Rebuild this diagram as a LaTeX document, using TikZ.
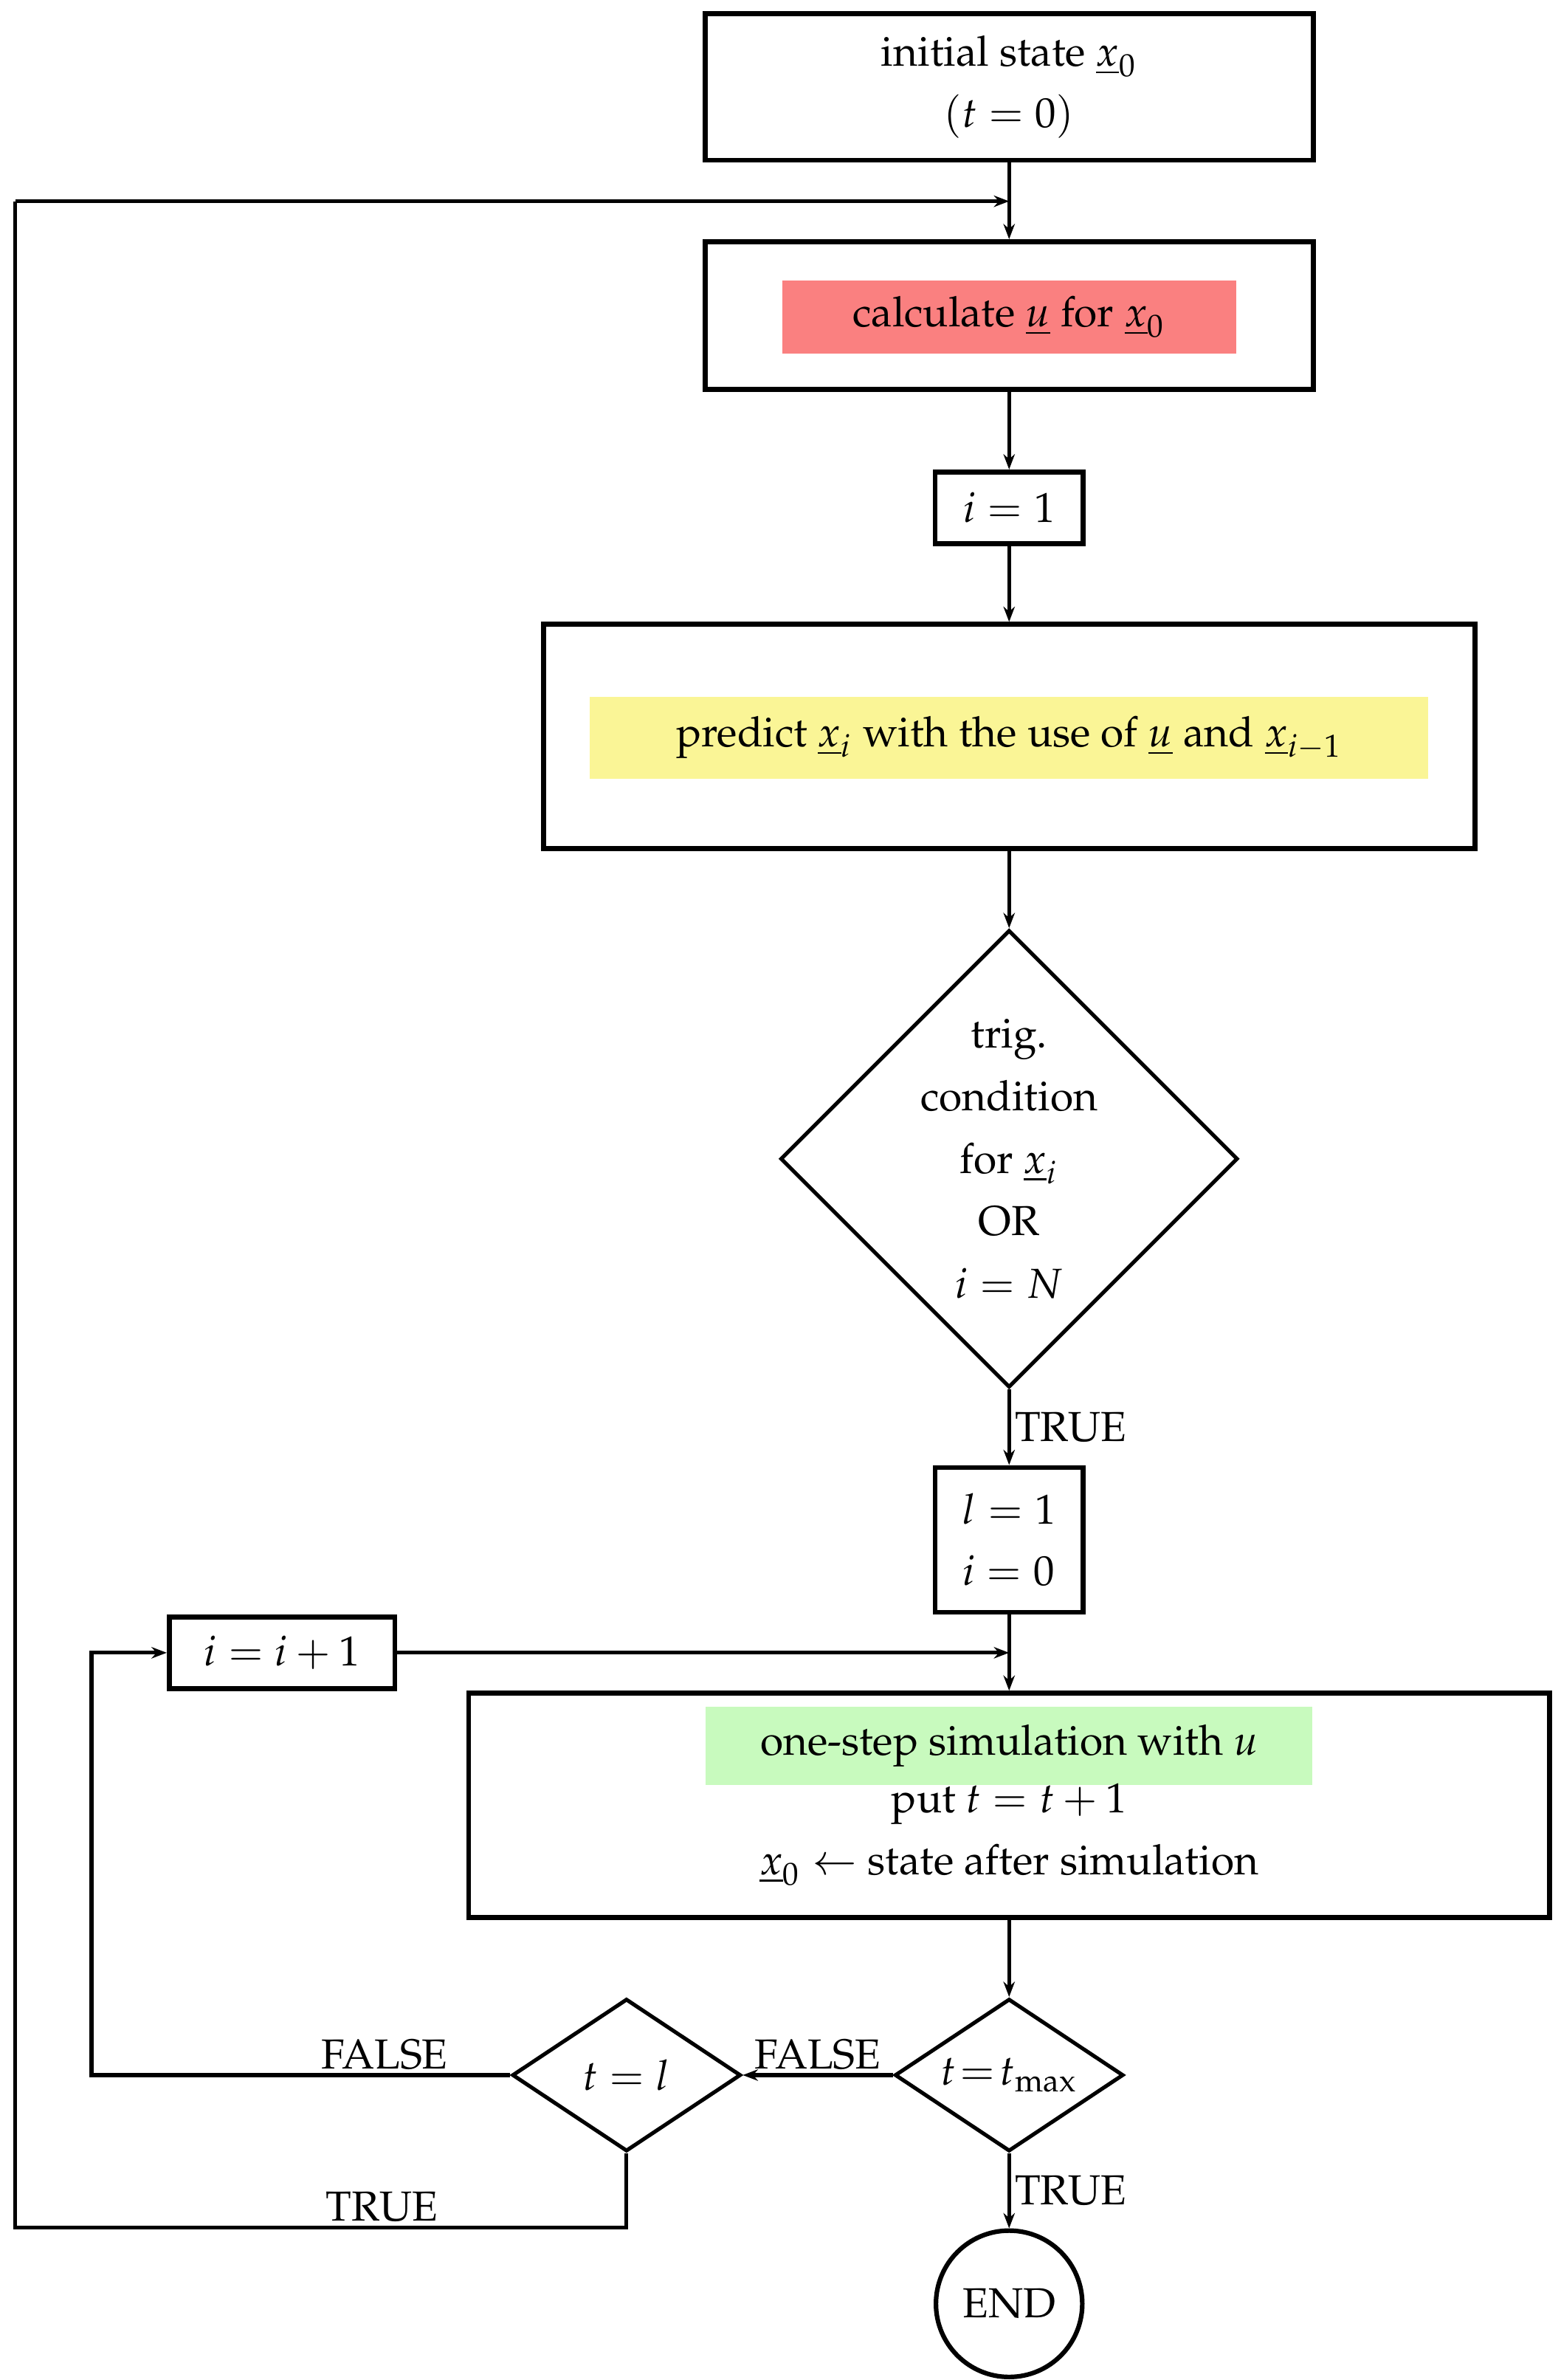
\documentclass[tikz,border=0pt]{standalone}
\usepackage[T1]{fontenc}
\usepackage{mathpazo}
\usetikzlibrary{shapes.geometric,arrows.meta}
\definecolor{cred}{RGB}{250,128,128}
\definecolor{cyel}{RGB}{250,245,150}
\definecolor{cgrn}{RGB}{200,250,190}
\begin{document}
\begin{tikzpicture}[x=0.4pt,y=-0.4pt,font=\fontsize{11}{16}\selectfont,
  box/.style={draw,line width=1.3pt,rectangle,inner sep=0pt,align=center},
  hl/.style={rectangle,inner sep=0pt,align=center},
  dia/.style={draw,line width=1pt,diamond,inner sep=0pt},
  ln/.style={line width=1pt},
  ar/.style={line width=1pt,-{Stealth[length=4pt,width=3pt]}},
  lab/.style={inner sep=1pt}]
\useasboundingbox (0,0) rectangle (1024,1561);
\node[box,minimum width=159.6pt,minimum height=38.4pt] (init) at (662,57) {initial state $\underline{x}_0$\\$(t=0)$};
\node[box,minimum width=159.6pt,minimum height=38.8pt] (calc) at (662,207) {};
\node[hl,fill=cred,minimum width=119.2pt,minimum height=19.2pt] (calct) at (662,208) {calculate $\underline{u}$ for $\underline{x}_0$};
\node[box,minimum width=38.8pt,minimum height=18.8pt] (i1) at (662,333) {$i=1$};
\node[box,minimum width=244.4pt,minimum height=58.8pt] (pred) at (662,483) {};
\node[hl,fill=cyel,minimum width=220pt,minimum height=21.6pt] (predt) at (662,484) {predict $\underline{x}_i$ with the use of $\underline{u}$ and $\underline{x}_{i-1}$};
\node[dia,minimum width=120pt,minimum height=120pt] (trig) at (662,760) {};
\node[align=center,font=\fontsize{11}{16.4}\selectfont] (trigt) at (662,760) {trig.\\condition\\for $\underline{x}_i$\\OR\\$i=N$};
\node[box,minimum width=38.8pt,minimum height=38pt,align=left] (l1) at (662,1010) {$l=1$\\$i=0$};
\node[box,minimum width=59.2pt,minimum height=18.8pt] (inc) at (185,1084) {$i=i+1$};
\coordinate (m) at (662,1084);
\node[box,minimum width=283.6pt,minimum height=58.8pt] (sim) at (662,1184) {};
\node[hl,fill=cgrn,minimum width=159.2pt,minimum height=20.4pt] (simt1) at (662,1145) {one-step simulation with $u$};
\node (simt2) at (662,1183) {put $t=t+1$};
\node (simt3) at (662,1223) {$\underline{x}_0 \leftarrow$ state after simulation};
\node[dia,minimum width=60pt,minimum height=40pt] (tmax) at (662,1361) {};
\node at (662,1361) {$t\!=\!t_{\max}$};
\node[dia,minimum width=60pt,minimum height=40pt] (tl) at (411,1361) {};
\node at (411,1361) {$t=l$};
\node[draw,line width=1.2pt,circle,minimum size=38.4pt,inner sep=0pt] (end) at (662,1511) {END};
\coordinate (top) at (662,132);
\draw[ar] (init) -- (calc);
\draw[ar] (10,132) -- (top);
\draw[ar] (calc) -- (i1);
\draw[ar] (i1) -- (pred);
\draw[ar] (pred) -- (trig);
\draw[ar] (trig) -- node[right,lab]{TRUE} (l1);
\draw[ln] (l1) -- (m);
\draw[ar] (inc) -- (m);
\draw[ar] (m) -- (sim);
\draw[ar] (sim) -- (tmax);
\draw[ar] (tmax) -- node[above,lab,pos=0.5]{FALSE} (tl);
\draw[ar] (tmax) -- node[right,lab]{TRUE} (end);
\draw[ar] (tl.west) -- node[above,lab,pos=0.3]{FALSE} (60,1361) -- (60,1084) -- (inc.west);
\draw[ln] (tl.south) -- (411,1461) -- node[above,lab,pos=0.4]{TRUE} (10,1461) -- (10,132);
\end{tikzpicture}
\end{document}
